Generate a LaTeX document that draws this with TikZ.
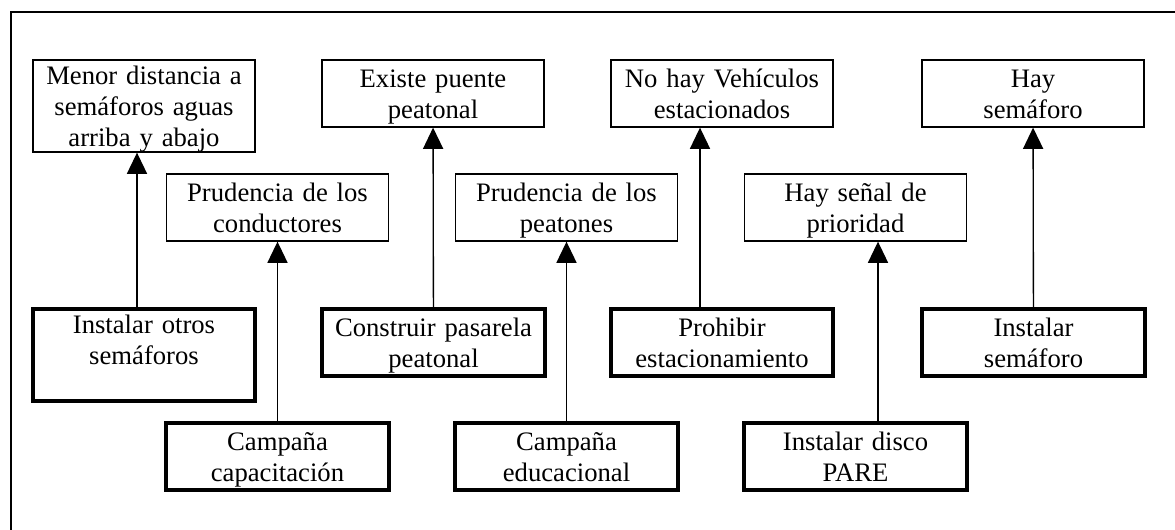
\documentclass[tikz,border=0pt]{standalone}
\usepackage{fontspec}
\setmainfont{Liberation Serif}
\usetikzlibrary{arrows.meta}
\definecolor{ink}{HTML}{000000}
\tikzset{
  objbox/.style={draw=ink, line width=0.6pt, rectangle, align=center,
    text width=94pt, inner xsep=3pt, inner ysep=0pt, minimum height=30.15pt,
    font=\fontsize{12}{13.8}\selectfont,
    execute at begin node=\rule{0pt}{11.1pt},
    execute at end node=\rule[-2.7pt]{0pt}{2.7pt}},
  actbox/.style={objbox, line width=1.8pt},
  link/.style={draw=ink, line width=0.6pt, -{Triangle[length=9.5pt,width=9pt]}},
  marco/.style={draw=ink, line width=0.6pt},
}

\begin{document}
\begin{tikzpicture}[x=0.45pt, y=-0.45pt]
  \def\u{0.45pt}
  \useasboundingbox (0,0) rectangle (1175,529);
  \clip (0,0) rectangle (1175,529);
  \draw[marco] (11,560) -- (11,12) -- (1190,12);

  % fines
  \node[objbox] (menor) at (144,106) {Menor distancia a\\semáforos aguas\\arriba y abajo};
  \node[objbox] (puente) at (433,93.5) {Existe puente\\peatonal};
  \node[objbox] (novehic) at (722,93.5) {No hay Vehículos\\estacionados};
  \node[objbox] (haysem) at (1033,93.5) {Hay\\semáforo};
  \node[objbox] (prudcond) at (277.5,207.5) {Prudencia de los\\conductores};
  \node[objbox] (prudpeat) at (566.5,207.5) {Prudencia de los\\peatones};
  \node[objbox] (senal) at (855.5,207.5) {Hay señal de\\prioridad};

  % acciones
  \node[actbox] (instotros) at (144,355) {Instalar otros\\semáforos\\~};
  \node[actbox] (pasarela) at (433.5,342.5) {Construir pasarela\\peatonal};
  \node[actbox] (prohibir) at (722,342.5) {Prohibir\\estacionamiento};
  \node[actbox] (instsem) at (1033.5,342.5) {Instalar\\semáforo};
  \node[actbox] (campcap) at (277.5,456.5) {Campaña\\capacitación};
  \node[actbox] (campedu) at (566.5,456.5) {Campaña\\educacional};
  \node[actbox] (disco) at (855.5,456.5) {Instalar disco\\PARE};

  \draw[link] ([xshift=-7*\u]instotros.north) -- ([xshift=-7*\u]menor.south);
  \draw[link] (campcap) -- (prudcond);
  \draw[link] (pasarela) -- (puente);
  \draw[link] (campedu) -- (prudpeat);
  \draw[link] ([xshift=-22*\u]prohibir.north) -- ([xshift=-22*\u]novehic.south);
  \draw[link] ([xshift=22.5*\u]disco.north) -- ([xshift=22.5*\u]senal.south);
  \draw[link] (instsem) -- (haysem);
\end{tikzpicture}
\end{document}
